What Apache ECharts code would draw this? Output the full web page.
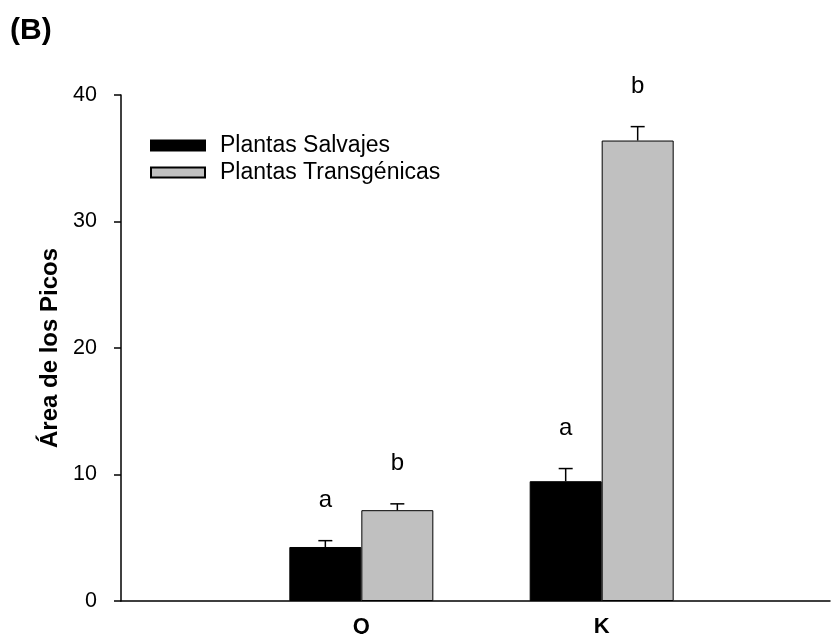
<!DOCTYPE html>
<html>
<head>
<meta charset="utf-8">
<script src="https://cdn.jsdelivr.net/npm/echarts@6/dist/echarts.min.js"></script>
<style>html,body{margin:0;padding:0;background:#fff}#c{width:833px;height:634px}</style>
</head>
<body>
<div id="c"></div>
<script>
// Data
const categories = ['Q', 'K'];
const seriesNames = ['Plantas Salvajes', 'Plantas Transgénicas'];
const wildValues = [4.27, 9.47];
const wildErrors = [0.5, 1.0];
const wildLetters = ['a', 'a'];
const transValues = [7.18, 36.4];
const transErrors = [0.5, 1.1];
const transLetters = ['b', 'b'];
const yTicks = [0, 10, 20, 30, 40];

const FONT = 'Liberation Sans, Arial, sans-serif';
const BAR_W = 72;

// category i sits at x = i + 1 on a 0..2.95 value axis
const barData = vals => vals.map((v, i) => [i + 1, v]);
const errData = (vals, errs) => vals.map((v, i) => [i + 1, v, errs[i]]);

function makeErr(side, letters) {
  return function (params, api) {
    const xi = api.value(0), v = api.value(1), e = api.value(2);
    const letter = letters[Math.round(xi) - 1] || '';
    const base = api.coord([xi, v]);
    const top = api.coord([xi, v + e]);
    const x = base[0] + side * BAR_W / 2;
    const cap = 7;
    return {
      type: 'group',
      children: [
        { type: 'line', shape: { x1: x, y1: base[1], x2: x, y2: top[1] }, style: { stroke: '#000', lineWidth: 1.5 } },
        { type: 'line', shape: { x1: x - cap, y1: top[1], x2: x + cap, y2: top[1] }, style: { stroke: '#000', lineWidth: 1.5 } },
        { type: 'text', x: x, y: top[1] - 40, style: { text: letter, fill: '#000', font: '24px ' + FONT, align: 'center', verticalAlign: 'middle' } }
      ]
    };
  };
}

const chart = echarts.init(document.getElementById('c'), null, { renderer: 'canvas' });
chart.setOption({
  animation: false,
  backgroundColor: '#fff',
  title: { text: '(B)', left: 5, top: 11, textStyle: { fontFamily: FONT, fontSize: 30, fontWeight: 'bold', color: '#000' } },
  legend: {
    orient: 'vertical', left: 145, top: 129, itemWidth: 54, itemHeight: 10, itemGap: 4,
    icon: 'rect',
    textStyle: { fontFamily: FONT, fontSize: 23, color: '#000', padding: [0, 0, 0, 10] },
    data: seriesNames
  },
  grid: { left: 121, top: 95, right: 3, height: 506, containLabel: false, outerBoundsMode: 'none' },
  xAxis: {
    type: 'value', min: 0, max: 2.95, interval: 1,
    axisLine: { lineStyle: { color: '#000', width: 1.5 } },
    axisTick: { show: false },
    axisLabel: { fontFamily: FONT, fontSize: 22, fontWeight: 'bold', color: '#000', margin: 15, showMaxLabel: false,
      formatter: v => (categories[Math.round(v) - 1] !== undefined && Math.abs(v - Math.round(v)) < 1e-6) ? categories[Math.round(v) - 1] : '' },
    splitLine: { show: false }
  },
  yAxis: {
    type: 'value', min: 0, max: 40, interval: 10,
    name: 'Área de los Picos', nameLocation: 'middle', nameGap: 52,
    nameTextStyle: { fontFamily: FONT, fontSize: 24, fontWeight: 'bold', color: '#000' },
    axisLine: { show: true, lineStyle: { color: '#000', width: 1.5 } },
    axisTick: { show: true, length: 7, lineStyle: { color: '#000', width: 1.5 } },
    axisLabel: { fontFamily: FONT, fontSize: 21.5, color: '#000', margin: 24, formatter: v => yTicks.includes(v) ? String(v) : '' },
    splitLine: { show: false }
  },
  series: [
    { name: seriesNames[0], type: 'bar', data: barData(wildValues), barWidth: BAR_W, barGap: '0%', itemStyle: { color: '#000', borderColor: '#000', borderWidth: 1 } },
    { name: seriesNames[1], type: 'bar', data: barData(transValues), barWidth: BAR_W, barGap: '0%', itemStyle: { color: '#c0c0c0', borderColor: '#000', borderWidth: 1 } },
    { type: 'custom', renderItem: makeErr(-1, wildLetters), data: errData(wildValues, wildErrors), z: 5, silent: true },
    { type: 'custom', renderItem: makeErr(1, transLetters), data: errData(transValues, transErrors), z: 5, silent: true }
  ]
});
</script>
</body>
</html>
